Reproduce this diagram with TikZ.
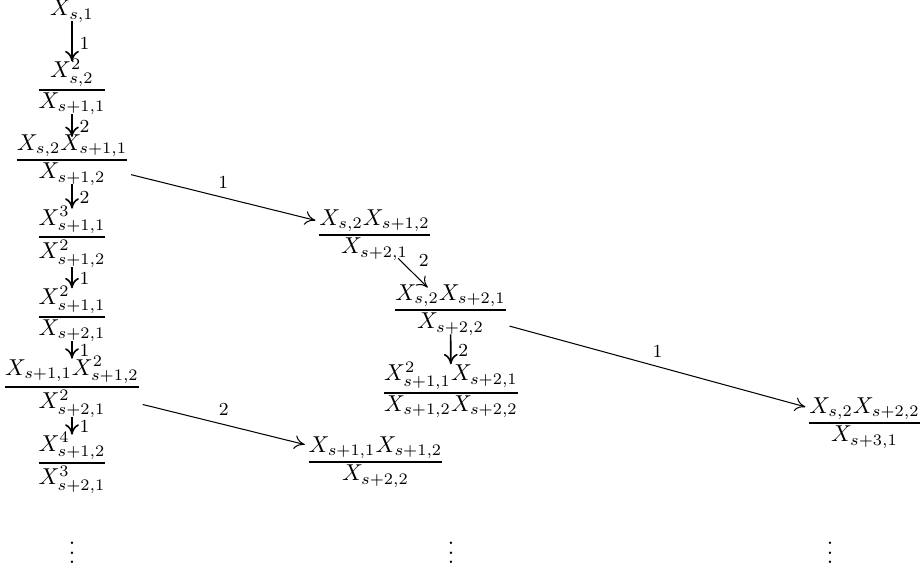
\documentclass[tikz,border=0pt]{standalone}
\usepackage{amsmath}
\usetikzlibrary{arrows.meta}
\newcommand\tfr[2]{\genfrac{}{}{0.9pt}{1}{\textstyle #1}{\textstyle #2}}
\begin{document}
\begin{tikzpicture}[x=0.4348pt,y=-0.4348pt,
  fr/.style={inner sep=0pt, outer sep=0.5pt},
  ar/.style={-{To[length=4.5pt,width=6pt]}, line width=0.45pt},
  va/.style={ar, line width=0.7pt, shorten <=-1pt, shorten >=-1.5pt},
  lab/.style={inner sep=1pt, font=\footnotesize}]
\useasboundingbox (0,0) rectangle (922,569);
% left column
\node[fr] (n1) at (72,11) {$X_{s,1}$};
\node[fr] (n2) at (72,87) {$\tfr{X_{s,2}^{2}}{X_{s+1,1}}$};
\node[fr] (n3) at (72,160) {$\tfr{X_{s,2}X_{s+1,1}}{X_{s+1,2}}$};
\node[fr] (n4) at (72,237) {$\tfr{X_{s+1,1}^{3}}{X_{s+1,2}^{2}}$};
\node[fr] (n5) at (72,314) {$\tfr{X_{s+1,1}^{2}}{X_{s+2,1}}$};
\node[fr] (n6) at (72,387) {$\tfr{X_{s+1,1}X_{s+1,2}^{2}}{X_{s+2,1}^{2}}$};
\node[fr] (n7) at (72,463) {$\tfr{X_{s+1,2}^{4}}{X_{s+2,1}^{3}}$};
\node[fr] (d1) at (72,546) {$\vdots$};
% middle column
\node[fr] (m1) at (374.5,235) {$\tfr{X_{s,2}X_{s+1,2}}{X_{s+2,1}}$};
\node[fr] (m2) at (450.5,310) {$\tfr{X_{s,2}X_{s+2,1}}{X_{s+2,2}}$};
\node[fr] (m3) at (451,390) {$\tfr{X_{s+1,1}^{2}X_{s+2,1}}{X_{s+1,2}X_{s+2,2}}$};
\node[fr] (m4) at (375.5,462) {$\tfr{X_{s+1,1}X_{s+1,2}}{X_{s+2,2}}$};
\node[fr] (d2) at (451,546) {$\vdots$};
% right column
\node[fr] (r1) at (864.5,423) {$\tfr{X_{s,2}X_{s+2,2}}{X_{s+3,1}}$};
\node[fr] (d3) at (830,546) {$\vdots$};
% vertical arrows
\draw[va] (n1) -- node[lab,pos=0.58,right=2pt] {1} (n2);
\draw[va] (n2) -- node[lab,pos=0.58,right=2pt] {2} (n3);
\draw[va] (n3) -- node[lab,pos=0.58,right=2pt] {2} (n4);
\draw[va] (n4) -- node[lab,pos=0.58,right=2pt] {1} (n5);
\draw[va] (n5) -- node[lab,pos=0.58,right=2pt] {1} (n6);
\draw[va] (n6) -- node[lab,pos=0.58,right=2pt] {1} (n7);
\draw[va] (m2) -- node[lab,pos=0.58,right=2pt] {2} (m3);
% diagonal arrows
\draw[ar] (n3) -- node[lab,midway,above=2.5pt] {1} (m1);
\draw[ar, shorten <=-2pt, shorten >=-2.5pt] (m1) -- node[lab,midway,above right=1.5pt] {2} (m2);
\draw[ar] (m2) -- node[lab,midway,above=2.5pt] {1} (r1);
\draw[ar] (n6) -- node[lab,midway,above=2.5pt] {2} (m4);
\end{tikzpicture}
\end{document}
